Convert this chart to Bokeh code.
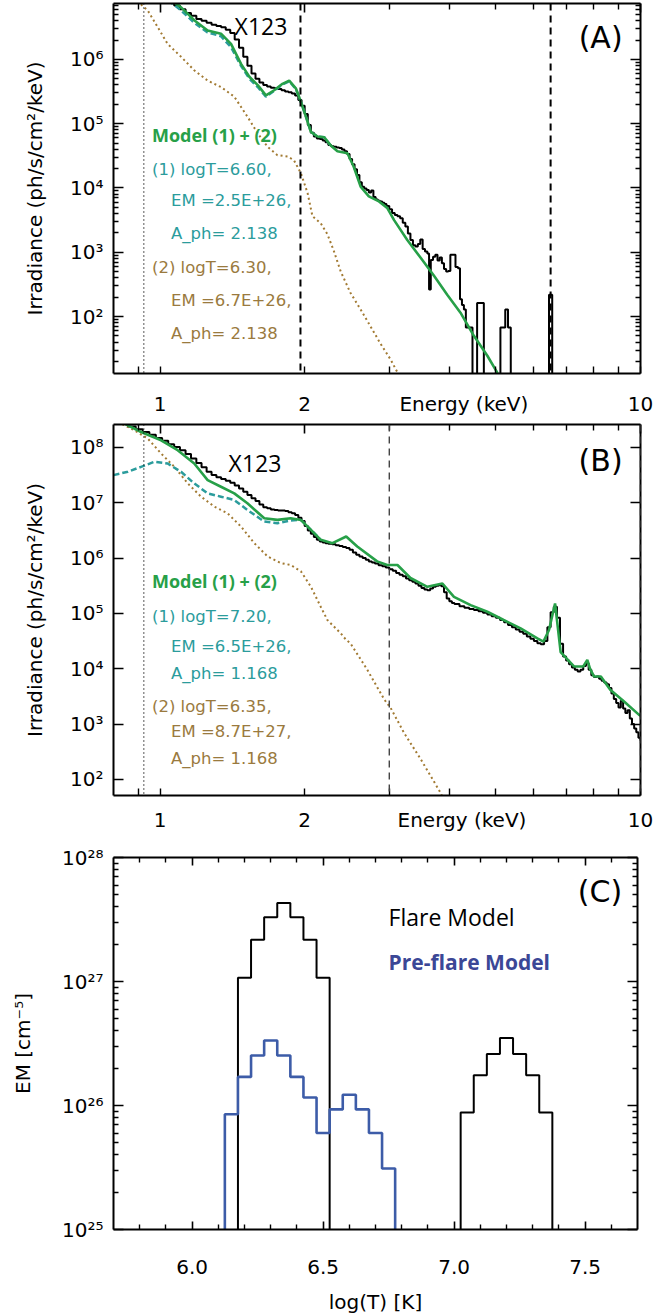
from bokeh.plotting import figure
from bokeh.models import (FixedTicker, LogAxis, LinearAxis, CustomJSTickFormatter,
                          Label, Span, Range1d)
from bokeh.layouts import column
from bokeh.embed import file_html
from bokeh.resources import INLINE

# ---------------- data: panel A (pre-flare spectrum) ----------------
# X123 observed spectrum: bin start energy (keV), log10 irradiance (None = empty bin)
a_obs_e = [1.04, 1.07, 1.10, 1.13, 1.16, 1.19, 1.22, 1.25, 1.28, 1.31, 1.34, 1.37, 1.40, 1.43,
           1.46, 1.49, 1.52, 1.55, 1.58, 1.61, 1.64, 1.67, 1.70, 1.73, 1.76, 1.79, 1.82, 1.85,
           1.88, 1.91, 1.94, 1.97, 2.00, 2.03, 2.06, 2.09, 2.12, 2.15, 2.18, 2.21, 2.24, 2.27,
           2.30, 2.33, 2.36, 2.39, 2.42, 2.45, 2.48, 2.51, 2.54, 2.57, 2.60, 2.63, 2.66, 2.69,
           2.72, 2.75, 2.78, 2.81, 2.84, 2.87, 2.90, 2.93, 2.96, 3.00, 3.04, 3.08, 3.12, 3.16,
           3.20, 3.24, 3.28, 3.32, 3.36, 3.40, 3.44, 3.48, 3.52, 3.56, 3.60, 3.63, 3.66, 3.70,
           3.74, 3.78, 3.82, 3.86, 3.90, 3.94, 3.98, 4.02, 4.07, 4.12, 4.17, 4.21, 4.25, 4.29,
           4.33, 4.47, 4.57, 4.72, 5.11, 5.23, 5.30, 5.37, 6.45, 6.55, 10.0]
a_obs_log = [6.92, 6.84, 6.78, 6.72, 6.68, 6.63, 6.60, 6.57, 6.54, 6.52, 6.50, 6.46, 6.41, 6.31,
             6.18, 6.04, 5.90, 5.78, 5.70, 5.64, 5.60, 5.58, 5.56, 5.55, 5.54, 5.52, 5.50, 5.49,
             5.47, 5.44, 5.37, 5.28, 5.15, 4.98, 4.86, 4.80, 4.77, 4.76, 4.74, 4.71, 4.67, 4.65,
             4.64, 4.63, 4.62, 4.60, 4.57, 4.53, 4.45, 4.37, 4.29, 4.20, 4.09, 4.02, 3.99, 3.97,
             3.93, 3.96, 3.86, 3.82, 3.80, 3.79, 3.77, 3.75, 3.72, 3.67, 3.61, 3.58, 3.56, 3.53,
             3.46, 3.40, 3.29, 3.19, 3.11, 3.09, 3.13, 3.20, 3.05, 3.01, 2.98, 2.42, 2.88, 2.93,
             2.96, 2.87, 2.92, 2.83, 2.74, 2.70, 2.71, 2.96, 2.96, 2.77, 2.75, 2.27, 2.18, 2.11,
             1.83, None, 2.21, None, 1.83, 2.11, 1.83, None, 2.34, None, None]
# Model (1)+(2) (green)
a_mod_e = [1.04, 1.106, 1.178, 1.256, 1.339, 1.405, 1.474, 1.534, 1.597, 1.661, 1.728, 1.798,
           1.857, 1.917, 1.964, 2.012, 2.061, 2.127, 2.197, 2.266, 2.34, 2.455, 2.53, 2.615,
           2.72, 2.855, 2.97, 3.07, 3.27, 3.49, 3.72, 3.96, 4.22, 4.50, 4.80, 5.03, 5.20]
a_mod_log = [6.95, 6.81, 6.61, 6.45, 6.40, 6.24, 5.93, 5.73, 5.60, 5.44, 5.52, 5.62,
             5.67, 5.55, 5.34, 5.11, 4.87, 4.80, 4.79, 4.66, 4.57, 4.54, 4.33, 4.02,
             3.87, 3.79, 3.69, 3.50, 3.19, 2.91, 2.63, 2.34, 2.06, 1.70, 1.39, 1.13, 0.90]
# Component (1) logT=6.60 (teal dashed)
a_c1_e = [1.04, 1.106, 1.178, 1.256, 1.339, 1.405, 1.474, 1.534, 1.597, 1.661, 1.728, 1.798,
          1.857, 1.917, 1.964, 2.012, 2.061, 2.127, 2.197, 2.266]
a_c1_log = [6.92, 6.76, 6.57, 6.42, 6.36, 6.19, 5.90, 5.70, 5.57, 5.42, 5.51, 5.61,
            5.66, 5.54, 5.34, 5.11, 4.87, 4.80, 4.79, 4.66]
# Component (2) logT=6.30 (brown dotted)
a_c2_e = [0.86, 0.899, 0.943, 0.989, 1.037, 1.106, 1.178, 1.256, 1.339, 1.427, 1.52, 1.597,
          1.674, 1.755, 1.842, 1.90, 1.964, 2.028, 2.076, 2.16, 2.23, 2.30, 2.377, 2.49,
          2.615, 2.74, 2.87, 3.02, 3.12, 3.20]
a_c2_log = [7.10, 6.90, 6.76, 6.50, 6.24, 6.04, 5.83, 5.67, 5.57, 5.42, 5.11, 4.85,
            4.64, 4.51, 4.49, 4.43, 4.23, 3.92, 3.56, 3.45, 3.28, 3.02, 2.70, 2.37,
            2.11, 1.85, 1.59, 1.33, 1.13, 0.95]
a_dotted = [0.925]
a_dashed = [1.96, 6.5]

# ---------------- data: panel B (flare spectrum) ----------------
b_obs_e = [0.83, 0.86, 0.89, 0.92, 0.95, 0.98, 1.01, 1.04, 1.07, 1.10, 1.13, 1.16, 1.19, 1.22,
           1.25, 1.28, 1.31, 1.34, 1.37, 1.40, 1.43, 1.46, 1.49, 1.52, 1.55, 1.58, 1.61, 1.64,
           1.67, 1.70, 1.73, 1.76, 1.79, 1.82, 1.85, 1.88, 1.91, 1.94, 1.97, 2.00, 2.03, 2.06,
           2.09, 2.12, 2.15, 2.18, 2.21, 2.24, 2.28, 2.32, 2.36, 2.40, 2.44, 2.48, 2.52, 2.56,
           2.60, 2.64, 2.68, 2.72, 2.76, 2.80, 2.85, 2.90, 2.95, 3.00, 3.05, 3.10, 3.15, 3.20,
           3.25, 3.30, 3.35, 3.40, 3.45, 3.50, 3.55, 3.60, 3.65, 3.70, 3.75, 3.80, 3.85, 3.90,
           3.95, 4.00, 4.05, 4.10, 4.20, 4.30, 4.40, 4.50, 4.60, 4.70, 4.80, 4.90, 5.00, 5.10,
           5.20, 5.30, 5.40, 5.50, 5.60, 5.70, 5.80, 5.90, 6.00, 6.10, 6.20, 6.30, 6.40, 6.50,
           6.60, 6.70, 6.80, 6.90, 7.00, 7.10, 7.20, 7.30, 7.40, 7.50, 7.60, 7.70, 7.80, 7.90,
           8.00, 8.10, 8.20, 8.30, 8.40, 8.50, 8.60, 8.70, 8.80, 8.90, 9.00, 9.10, 9.20, 9.30,
           9.40, 9.50, 9.60, 9.70, 9.80, 9.90, 10.0]
b_obs_log = [8.43, 8.38, 8.33, 8.28, 8.23, 8.17, 8.12, 8.06, 8.01, 7.95, 7.88, 7.80, 7.72, 7.64,
             7.56, 7.50, 7.46, 7.43, 7.40, 7.36, 7.31, 7.26, 7.20, 7.14, 7.08, 7.03, 6.97, 6.92,
             6.90, 6.88, 6.87, 6.86, 6.86, 6.85, 6.83, 6.81, 6.78, 6.73, 6.67, 6.58, 6.50, 6.44,
             6.38, 6.33, 6.30, 6.28, 6.27, 6.26, 6.25, 6.23, 6.22, 6.20, 6.18, 6.15, 6.10, 6.06,
             6.03, 6.00, 5.97, 5.94, 5.92, 5.90, 5.87, 5.85, 5.83, 5.80, 5.77, 5.73, 5.70, 5.67,
             5.63, 5.60, 5.57, 5.54, 5.50, 5.46, 5.43, 5.42, 5.45, 5.48, 5.50, 5.51, 5.49, 5.38,
             5.27, 5.22, 5.19, 5.17, 5.13, 5.10, 5.08, 5.06, 5.04, 5.01, 4.98, 4.95, 4.92, 4.88,
             4.84, 4.79, 4.75, 4.71, 4.67, 4.63, 4.58, 4.54, 4.50, 4.46, 4.44, 4.50, 4.75, 5.02,
             5.12, 4.92, 4.45, 4.22, 4.15, 4.08, 4.02, 3.98, 3.95, 3.98, 4.05, 4.10, 3.98, 3.88,
             3.85, 3.86, 3.82, 3.78, 3.75, 3.72, 3.65, 3.55, 3.45, 3.38, 3.30, 3.42, 3.28, 3.20,
             3.25, 3.10, 3.00, 2.92, 2.85, 2.75, 2.70]
b_mod_e = [0.80, 0.843, 0.913, 1.005, 1.088, 1.178, 1.256, 1.339, 1.427, 1.52, 1.648, 1.755,
           1.87, 1.964, 2.061, 2.16, 2.285, 2.44, 2.573, 2.83, 2.97, 3.12, 3.32, 3.60, 3.87,
           4.09, 4.43, 4.80, 5.19, 5.63, 6.10, 6.28, 6.45, 6.64, 6.82, 7.27, 7.60, 7.75, 7.85,
           8.00, 8.27, 8.65, 9.23, 9.92, 10.0]
b_mod_log = [8.55, 8.43, 8.28, 8.13, 7.95, 7.71, 7.41, 7.29, 7.17, 6.99, 6.72, 6.69,
             6.72, 6.69, 6.51, 6.33, 6.27, 6.39, 6.21, 5.94, 5.875, 5.875, 5.64, 5.48, 5.54,
             5.30, 5.15, 5.03, 4.88, 4.73, 4.55, 4.49, 4.70, 5.18, 4.30, 4.04, 4.04, 4.16, 4.00,
             3.86, 3.86, 3.62, 3.41, 3.17, 3.15]
b_c1_e = [0.80, 0.857, 0.913, 0.973, 1.037, 1.106, 1.178, 1.256, 1.339, 1.427, 1.52, 1.648,
          1.755, 1.87, 1.964, 2.061, 2.16]
b_c1_log = [7.50, 7.56, 7.65, 7.74, 7.71, 7.56, 7.35, 7.17, 7.11, 7.05, 6.87, 6.66,
            6.63, 6.68, 6.69, 6.51, 6.33]
b_c2_e = [0.80, 0.83, 0.884, 0.943, 1.005, 1.071, 1.142, 1.217, 1.297, 1.382, 1.474, 1.571,
          1.674, 1.784, 1.87, 1.964, 2.061, 2.16, 2.23, 2.377, 2.44, 2.49, 2.70, 2.93, 3.02,
          3.22, 3.49, 3.84, 3.90]
b_c2_log = [8.50, 8.43, 8.31, 8.16, 7.89, 7.65, 7.35, 7.11, 6.93, 6.81, 6.57, 6.27,
            6.03, 5.91, 5.875, 5.76, 5.48, 5.12, 4.88, 4.64, 4.52, 4.46, 3.98, 3.44, 3.29,
            2.84, 2.36, 1.75, 1.60]
b_dotted = [0.925]
b_dashed = [3.0, 10.0]

# tick labels of the energy axes (the axis title sits in the tick-label row)
e_tick_vals = [1, 2, 10]
e_minor_vals = [0.9, 3, 4, 5, 6, 7, 8, 9]
e_title = "Energy (keV)"
a_title_pos = 4.29
b_title_pos = 4.25

# ---------------- data: panel C (DEM) ----------------
flare_logt = [6.20, 6.25, 6.30, 6.35, 6.40, 6.45, 6.50, 7.05, 7.10, 7.15, 7.20, 7.25, 7.30, 7.35]
flare_em = [1.07e27, 2.17e27, 3.3e27, 4.3e27, 3.3e27, 2.17e27, 1.07e27,
            8.8e25, 1.75e26, 2.6e26, 3.5e26, 2.6e26, 1.75e26, 8.8e25]
pre_logt = [6.15, 6.20, 6.25, 6.30, 6.35, 6.40, 6.45, 6.50, 6.55, 6.60, 6.65, 6.70, 6.75]
pre_em = [8.5e25, 1.7e26, 2.53e26, 3.34e26, 2.53e26, 1.7e26, 1.16e26, 6.0e25,
          9.3e25, 1.22e26, 9.3e25, 6.0e25, 3.1e25]
bin_width = 0.05
c_tick_vals = [6.0, 6.5, 7.0, 7.5]

# ---------------- styling ----------------
GREEN = "#27a048"
TEAL = "#2b9c9c"
BROWN = "#a27a32"
BROWN_TXT = "#9a7a3e"
BLUE = "#3d5ca8"
BLUE_TXT = "#3b4796"
FONT = "DejaVu Sans"
EMPTY = 1e-3

SUP = ("const s={'0':'\u2070','1':'\u00b9','2':'\u00b2','3':'\u00b3','4':'\u2074',"
       "'5':'\u2075','6':'\u2076','7':'\u2077','8':'\u2078','9':'\u2079','-':'\u207b'};"
       "const e=Math.round(Math.log10(tick));"
       "return '10'+String(e).split('').map(c=>s[c]).join('');")
pow_fmt = CustomJSTickFormatter(code=SUP)
blank_fmt = CustomJSTickFormatter(code="return '';")
fixed1_fmt = CustomJSTickFormatter(code="return tick.toFixed(1);")


def energy_fmt(pos):
    return CustomJSTickFormatter(
        args=dict(pos=pos, title=e_title),
        code="if (Math.abs(tick - pos) < 1e-6) { return title; } return String(tick);")


def lin(vals):
    return [EMPTY if v is None else 10 ** v for v in vals]


def decade_minors(lo, hi):
    return [k * 10 ** n for n in range(lo, hi) for k in range(2, 10)]


def style_axis(ax, major, minor, fs="20px", standoff=10):
    ax.axis_line_width = 2
    ax.axis_line_color = "black"
    ax.major_tick_in = major
    ax.major_tick_out = 0
    ax.minor_tick_in = minor
    ax.minor_tick_out = 0
    ax.major_tick_line_width = 1.6
    ax.minor_tick_line_width = 1.4
    ax.major_label_text_font = FONT
    ax.major_label_text_font_size = fs
    ax.major_label_text_color = "black"
    ax.major_label_standoff = standoff
    ax.axis_label_text_font = FONT
    ax.axis_label_text_font_style = "normal"
    ax.axis_label_text_font_size = "20px"
    ax.axis_label_text_color = "black"


def add_mirror(p, kind, xt, yt, xmaj, xmin, ymaj, ymin):
    Ax = LogAxis if kind[0] == "log" else LinearAxis
    Ay = LogAxis if kind[1] == "log" else LinearAxis
    top = Ax(ticker=xt, formatter=blank_fmt)
    right = Ay(ticker=yt, formatter=blank_fmt)
    style_axis(top, xmaj, xmin, fs="1px", standoff=0)
    style_axis(right, ymaj, ymin, fs="1px", standoff=0)
    p.add_layout(top, "above")
    p.add_layout(right, "right")


def spec_panel(y_lo, y_hi, top_b, frame_h, bot_b, x_stand, y_minor, title_pos):
    p = figure(x_axis_type="log", y_axis_type="log",
               x_range=Range1d(0.8, 10.0), y_range=Range1d(y_lo, y_hi),
               frame_width=527, frame_height=frame_h,
               min_border_left=113, min_border_right=14,
               min_border_top=top_b, min_border_bottom=bot_b,
               output_backend="svg", toolbar_location=None)
    p.grid.visible = False
    p.outline_line_color = None
    # bottom axis: labelled positions (incl. axis title) carry no tick mark,
    # all tick marks are drawn as minor ticks
    xt_bottom = FixedTicker(ticks=e_tick_vals[:2] + [title_pos] + e_tick_vals[2:],
                            minor_ticks=sorted(e_tick_vals + e_minor_vals))
    xt_top = FixedTicker(ticks=e_tick_vals, minor_ticks=e_minor_vals)
    yt = FixedTicker(ticks=[10 ** n for n in range(2, 9)],
                     minor_ticks=decade_minors(1, 9) if y_minor else [])
    p.xaxis.ticker = xt_bottom
    p.xaxis.formatter = energy_fmt(title_pos)
    p.yaxis.ticker = yt
    p.yaxis.formatter = pow_fmt
    style_axis(p.xaxis[0], 0, 7, standoff=x_stand)
    style_axis(p.yaxis[0], 10, 5, standoff=10)
    p.yaxis.axis_label = "Irradiance (ph/s/cm\u00b2/keV)"
    p.yaxis.axis_label_standoff = 20
    add_mirror(p, ("log", "log"), xt_top, yt, 9, 6, 10, 5)
    return p


def add_vlines(p, dotted, dashed, dash_color="black", dash_w=2.0):
    for v in dotted:
        p.add_layout(Span(location=v, dimension="height", line_color="black",
                          line_dash="1 3", line_width=1.3))
    for v in dashed:
        p.add_layout(Span(location=v, dimension="height", line_color=dash_color,
                          line_dash="7 5", line_width=dash_w))


def add_text(p, x, y, text, color="black", font=FONT, size="16.5px", style="normal",
             align="left"):
    p.add_layout(Label(x=x, y=y, text=text, text_color=color, text_font=font,
                       text_font_size=size, text_font_style=style, text_align=align,
                       text_baseline="middle"))


# ---------------- Panel A ----------------
pA = spec_panel(13, 7.4e6, 3, 370, 42, 18, True, a_title_pos)
add_vlines(pA, a_dotted, a_dashed)
pA.line(a_c2_e, lin(a_c2_log), line_color=BROWN, line_width=2, line_dash="2 3")
pA.step(a_obs_e, lin(a_obs_log), mode="after", line_color="black", line_width=2)
pA.line(a_c1_e, lin(a_c1_log), line_color=TEAL, line_width=2.5, line_dash="6 3")
pA.line(a_mod_e, lin(a_mod_log), line_color=GREEN, line_width=2.6)
add_text(pA, 1.622, 10 ** 6.527, "X123", font="Open Sans", size="23px", align="center")
add_text(pA, 8.26, 10 ** 6.341, "(A)", size="30px", align="center")
add_text(pA, 0.962, 10 ** 4.822, "Model (1) + (2)", color=GREEN, font="Open Sans",
         size="18px", style="bold")
add_text(pA, 0.962, 10 ** 4.28, "(1) logT=6.60,", color=TEAL)
add_text(pA, 1.054, 10 ** 3.798, "EM =2.5E+26,", color=TEAL)
add_text(pA, 1.054, 10 ** 3.287, "A_ph= 2.138", color=TEAL)
add_text(pA, 0.962, 10 ** 2.760, "(2) logT=6.30,", color=BROWN_TXT)
add_text(pA, 1.054, 10 ** 2.248, "EM =6.7E+26,", color=BROWN_TXT)
add_text(pA, 1.054, 10 ** 1.736, "A_ph= 2.138", color=BROWN_TXT)

# ---------------- Panel B ----------------
pB = spec_panel(51, 2.6e8, 6, 371, 43, 12, False, b_title_pos)
add_vlines(pB, b_dotted, b_dashed, dash_color="#444444", dash_w=1.4)
pB.line(b_c2_e, lin(b_c2_log), line_color=BROWN, line_width=2, line_dash="2 3")
pB.step(b_obs_e, lin(b_obs_log), mode="after", line_color="black", line_width=2)
pB.line(b_c1_e, lin(b_c1_log), line_color=TEAL, line_width=2.5, line_dash="6 3")
pB.line(b_mod_e, lin(b_mod_log), line_color=GREEN, line_width=2.6)
add_text(pB, 1.576, 10 ** 7.711, "X123", font="Open Sans", size="23px", align="center")
add_text(pB, 8.26, 10 ** 7.765, "(B)", size="30px", align="center")
add_text(pB, 0.962, 10 ** 5.578, "Model (1) + (2)", color=GREEN, font="Open Sans",
         size="18px", style="bold")
add_text(pB, 0.962, 10 ** 4.946, "(1) logT=7.20,", color=TEAL)
add_text(pB, 1.054, 10 ** 4.403, "EM =6.5E+26,", color=TEAL)
add_text(pB, 1.054, 10 ** 3.915, "A_ph= 1.168", color=TEAL)
add_text(pB, 0.962, 10 ** 3.319, "(2) logT=6.35,", color=BROWN_TXT)
add_text(pB, 1.054, 10 ** 2.867, "EM =8.7E+27,", color=BROWN_TXT)
add_text(pB, 1.054, 10 ** 2.379, "A_ph= 1.168", color=BROWN_TXT)

# ---------------- Panel C ----------------
pC = figure(y_axis_type="log", x_range=Range1d(5.7, 7.7), y_range=Range1d(1e25, 1e28),
            frame_width=524, frame_height=372, min_border_left=111, min_border_right=19,
            min_border_top=19, min_border_bottom=86,
            output_backend="svg", toolbar_location=None)
pC.grid.visible = False
pC.outline_line_color = None
xtC = FixedTicker(ticks=c_tick_vals,
                  minor_ticks=[5.8, 5.9, 6.1, 6.2, 6.3, 6.4, 6.6, 6.7, 6.8, 6.9,
                               7.1, 7.2, 7.3, 7.4, 7.6])
ytC = FixedTicker(ticks=[1e25, 1e26, 1e27, 1e28], minor_ticks=decade_minors(25, 28))
pC.xaxis.ticker = xtC
pC.xaxis.formatter = fixed1_fmt
pC.yaxis.ticker = ytC
pC.yaxis.formatter = pow_fmt
style_axis(pC.xaxis[0], 8, 5, standoff=30)
style_axis(pC.yaxis[0], 10, 5, standoff=10)
pC.xaxis.axis_label = "log(T) [K]"
pC.xaxis.axis_label_standoff = 13
pC.yaxis.axis_label = "EM [cm\u207b\u2075]"
pC.yaxis.axis_label_standoff = 24
add_mirror(pC, ("lin", "log"), xtC, ytC, 8, 5, 10, 5)


def hist_paths(centers, vals, w, floor=1e20):
    xs_all, ys_all = [], []
    xs, ys = [], []
    prev = None
    for c, v in zip(centers, vals):
        left, right = c - w / 2, c + w / 2
        if prev is None or abs(left - prev) > 1e-6:
            if xs:
                xs.append(prev); ys.append(floor)
                xs_all.append(xs); ys_all.append(ys)
            xs, ys = [left], [floor]
        xs += [left, right]
        ys += [v, v]
        prev = right
    xs.append(prev); ys.append(floor)
    xs_all.append(xs); ys_all.append(ys)
    return xs_all, ys_all


fx, fy = hist_paths(flare_logt, flare_em, bin_width)
px_, py_ = hist_paths(pre_logt, pre_em, bin_width)
pC.multi_line(fx, fy, line_color="black", line_width=2)
pC.multi_line(px_, py_, line_color=BLUE, line_width=2.6)
add_text(pC, 7.557, 10 ** 27.726, "(C)", size="30px", align="center")
add_text(pC, 6.75, 10 ** 27.524, "Flare Model", font="Open Sans", size="23px")
add_text(pC, 6.75, 10 ** 27.161, "Pre-flare Model", color=BLUE_TXT, font="Open Sans",
         size="21px", style="bold")

layout = column(pA, pB, pC, spacing=0)
open("out.html", "w").write(file_html(layout, INLINE))
